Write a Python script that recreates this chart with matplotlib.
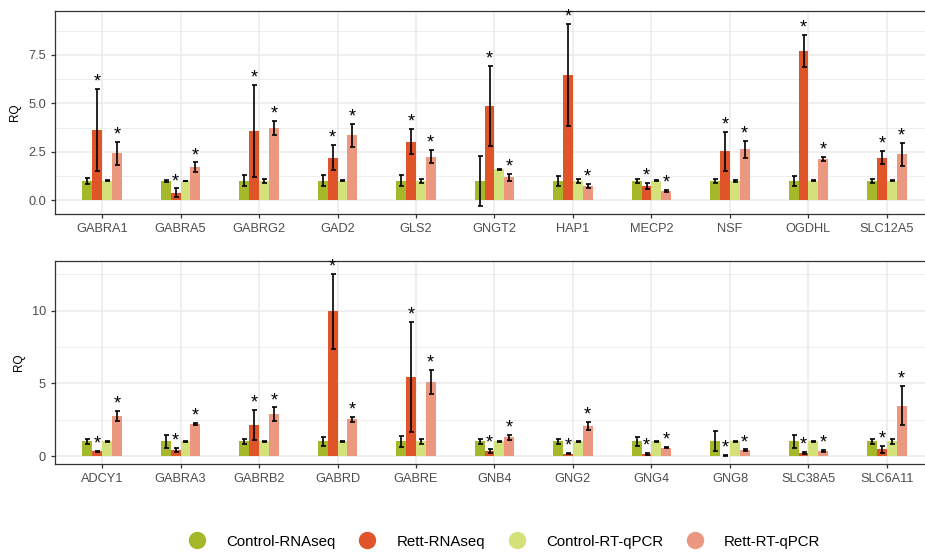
import matplotlib.pyplot as plt
from matplotlib.lines import Line2D
import numpy as np

plt.rcParams['font.family'] = ['Liberation Sans', 'DejaVu Sans']

# Genes per panel
genes_top = ['GABRA1', 'GABRA5', 'GABRG2', 'GAD2', 'GLS2', 'GNGT2', 'HAP1', 'MECP2', 'NSF', 'OGDHL', 'SLC12A5']
genes_bottom = ['ADCY1', 'GABRA3', 'GABRB2', 'GABRD', 'GABRE', 'GNB4', 'GNG2', 'GNG4', 'GNG8', 'SLC38A5', 'SLC6A11']

# Relative quantities (RQ) and their errors, top panel
ctrl_rnaseq_top = [1.0, 1.0, 1.0, 1.0, 1.0, 1.0, 1.0, 1.0, 1.0, 1.0, 1.0]
ctrl_rnaseq_top_err = [0.15, 0.05, 0.28, 0.28, 0.28, 1.28, 0.27, 0.12, 0.12, 0.24, 0.12]
rett_rnaseq_top = [3.62, 0.39, 3.57, 2.20, 3.02, 4.86, 6.47, 0.74, 2.52, 7.70, 2.20]
rett_rnaseq_top_err = [2.13, 0.22, 2.36, 0.63, 0.64, 2.05, 2.64, 0.15, 1.00, 0.82, 0.35]
ctrl_qpcr_top = [1.0, 1.0, 1.0, 1.0, 1.0, 1.60, 1.0, 1.0, 1.0, 1.0, 1.0]
ctrl_qpcr_top_err = [0.03, 0.02, 0.12, 0.03, 0.10, 0.02, 0.10, 0.03, 0.04, 0.03, 0.03]
rett_qpcr_top = [2.42, 1.70, 3.74, 3.35, 2.25, 1.19, 0.75, 0.50, 2.63, 2.13, 2.37]
rett_qpcr_top_err = [0.60, 0.25, 0.35, 0.60, 0.35, 0.18, 0.10, 0.05, 0.43, 0.12, 0.58]

# Relative quantities (RQ) and their errors, bottom panel
ctrl_rnaseq_bottom = [1.0, 1.0, 1.0, 1.0, 1.0, 1.0, 1.0, 1.0, 1.0, 1.0, 1.0]
ctrl_rnaseq_bottom_err = [0.20, 0.46, 0.18, 0.30, 0.40, 0.16, 0.20, 0.31, 0.69, 0.46, 0.15]
rett_rnaseq_bottom = [0.32, 0.39, 2.13, 9.95, 5.43, 0.32, 0.16, 0.14, 0.03, 0.21, 0.46]
rett_rnaseq_bottom_err = [0.05, 0.14, 1.01, 2.60, 3.80, 0.13, 0.05, 0.05, 0.04, 0.04, 0.22]
ctrl_qpcr_bottom = [1.0, 1.0, 1.0, 1.0, 1.0, 1.0, 1.0, 1.0, 1.0, 1.0, 1.0]
ctrl_qpcr_bottom_err = [0.04, 0.03, 0.05, 0.04, 0.16, 0.05, 0.03, 0.03, 0.04, 0.03, 0.18]
rett_qpcr_bottom = [2.75, 2.20, 2.89, 2.52, 5.09, 1.28, 2.06, 0.57, 0.39, 0.34, 3.46]
rett_qpcr_bottom_err = [0.32, 0.06, 0.45, 0.15, 0.83, 0.17, 0.25, 0.05, 0.06, 0.05, 1.34]

groups = ['Control-RNAseq', 'Rett-RNAseq', 'Control-RT-qPCR', 'Rett-RT-qPCR']
group_colors = ['#A4B82A', '#E0542A', '#D4E07A', '#EC9880']
significant = [False, True, False, True]


def plot_panel(ax, genes, series, errors, yticks, ylim, yfmt):
    x = np.arange(len(genes))
    width = 0.125
    offsets = (np.arange(len(series)) - 1.5) * width

    for i, (vals, errs) in enumerate(zip(series, errors)):
        vals = np.array(vals)
        errs = np.array(errs)
        ax.bar(x + offsets[i], vals, width, color=group_colors[i], zorder=2)
        ax.errorbar(x + offsets[i], vals, yerr=errs, fmt='none', ecolor='black',
                    elinewidth=1.2, capsize=1.8, capthick=1.2, zorder=3)
        if significant[i]:
            for xi, top in zip(x + offsets[i], vals + errs):
                ax.annotate('*', (xi, top), xytext=(0, 5), textcoords='offset points',
                            ha='center', va='center', fontsize=13, color='black', zorder=4)

    # Axes
    ax.set_xlim(-0.6, len(genes) - 0.4)
    ax.set_ylim(*ylim)
    ax.set_xticks(x)
    ax.set_xticklabels(genes)
    ax.set_yticks(yticks)
    ax.set_yticklabels([yfmt.format(t) for t in yticks])
    minor = [(a + b) / 2 for a, b in zip(yticks[:-1], yticks[1:])]
    minor.append(yticks[-1] + (yticks[1] - yticks[0]) / 2)
    ax.set_yticks(minor, minor=True)
    ax.tick_params(axis='y', which='minor', length=0)

    # Visuals
    ax.set_facecolor('white')
    ax.grid(which='major', color='#EBEBEB', linewidth=1.1, zorder=0)
    ax.grid(which='minor', axis='y', color='#EBEBEB', linewidth=0.6, zorder=0)
    ax.set_axisbelow(True)
    for spine in ax.spines.values():
        spine.set_color('#333333')
        spine.set_linewidth(0.9)
    ax.tick_params(which='major', length=3, width=0.9, color='#333333',
                   labelcolor='#4D4D4D', labelsize=9.2)
    ax.set_ylabel('RQ', fontsize=8.5, color='black', labelpad=5)


fig = plt.figure(figsize=(9.25, 5.52), dpi=100)
ax_top = fig.add_axes([55 / 925, 1 - 214 / 552, 879 / 925, 203 / 552])
ax_bottom = fig.add_axes([55 / 925, 1 - 464 / 552, 879 / 925, 203 / 552])

plot_panel(ax_top, genes_top,
           [ctrl_rnaseq_top, rett_rnaseq_top, ctrl_qpcr_top, rett_qpcr_top],
           [ctrl_rnaseq_top_err, rett_rnaseq_top_err, ctrl_qpcr_top_err, rett_qpcr_top_err],
           [0.0, 2.5, 5.0, 7.5], (-0.706, 9.76), '{:.1f}')
plot_panel(ax_bottom, genes_bottom,
           [ctrl_rnaseq_bottom, rett_rnaseq_bottom, ctrl_qpcr_bottom, rett_qpcr_bottom],
           [ctrl_rnaseq_bottom_err, rett_rnaseq_bottom_err, ctrl_qpcr_bottom_err, rett_qpcr_bottom_err],
           [0, 5, 10], (-0.55, 13.41), '{:.0f}')

# Legend
handles = [Line2D([], [], linestyle='none', marker='o', markersize=11.5,
                  markerfacecolor=c, markeredgecolor=c) for c in group_colors]
fig.legend(handles, groups, ncol=4, loc='center', bbox_to_anchor=(0.546, 0.019),
           frameon=False, fontsize=10.8, handlelength=1.0, handletextpad=1.45,
           columnspacing=1.6)

fig.savefig('out.png', dpi=100)
